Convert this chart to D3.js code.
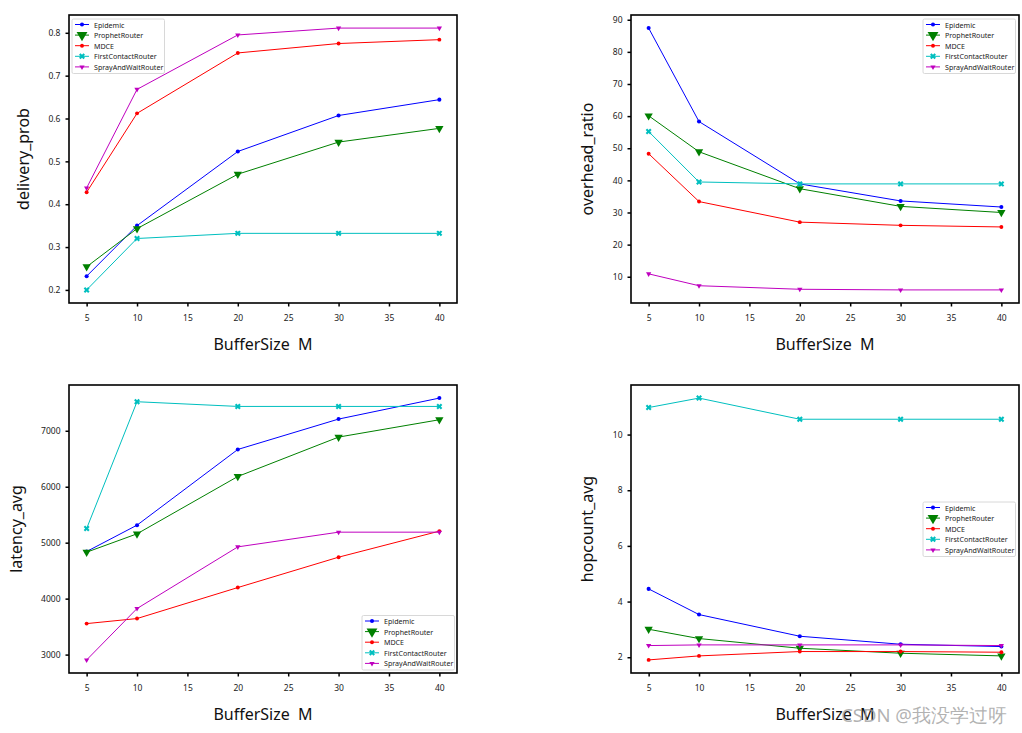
<!DOCTYPE html>
<html><head><meta charset="utf-8">
<script src="https://cdn.jsdelivr.net/npm/d3@7"></script>
<style>body{margin:0;background:#fff}svg{display:block}text{font-family:"Noto Sans","Open Sans",sans-serif}</style>
</head><body>
<script>
const bufferSizes = [5, 10, 20, 30, 40];
const seriesNames = ["Epidemic", "ProphetRouter", "MDCE", "FirstContactRouter", "SprayAndWaitRouter"];
const xTicks = [5, 10, 15, 20, 25, 30, 35, 40];

// delivery_prob
const deliveryEpidemic = [0.232, 0.350, 0.523, 0.607, 0.644];
const deliveryProphet = [0.254, 0.343, 0.470, 0.545, 0.577];
const deliveryMDCE = [0.428, 0.612, 0.753, 0.775, 0.784];
const deliveryFirstContact = [0.200, 0.320, 0.332, 0.332, 0.332];
const deliverySpray = [0.438, 0.668, 0.795, 0.811, 0.811];
const deliveryTicks = [0.2, 0.3, 0.4, 0.5, 0.6, 0.7, 0.8];

// overhead_ratio
const overheadEpidemic = [87.4, 58.3, 38.9, 33.6, 31.7];
const overheadProphet = [60.1, 48.9, 37.4, 31.9, 30.0];
const overheadMDCE = [48.3, 33.4, 27.0, 26.0, 25.5];
const overheadFirstContact = [55.2, 39.5, 38.9, 38.9, 38.9];
const overheadSpray = [10.9, 7.2, 6.1, 5.9, 5.9];
const overheadTicks = [10, 20, 30, 40, 50, 60, 70, 80, 90];

// latency_avg
const latencyEpidemic = [4842, 5313, 6666, 7209, 7584];
const latencyProphet = [4830, 5158, 6183, 6887, 7197];
const latencyMDCE = [3554, 3644, 4198, 4741, 5206];
const latencyFirstContact = [5253, 7519, 7435, 7435, 7435];
const latencySpray = [2905, 3823, 4925, 5188, 5188];
const latencyTicks = [3000, 4000, 5000, 6000, 7000];

// hopcount_avg
const hopEpidemic = [4.455, 3.533, 2.754, 2.467, 2.383];
const hopProphet = [3.006, 2.671, 2.323, 2.144, 2.048];
const hopMDCE = [1.904, 2.048, 2.204, 2.204, 2.180];
const hopFirstContact = [10.97, 11.31, 10.55, 10.55, 10.55];
const hopSpray = [2.419, 2.443, 2.443, 2.443, 2.419];
const hopTicks = [2, 4, 6, 8, 10];

const colors = ["#0000ff", "#008000", "#ff0000", "#00bfbf", "#bf00bf"];

const W = 1022, H = 733;
const svg = d3.select("body").append("svg").attr("width", W).attr("height", H);

function markerPath(i) {
  if (i === 0) return {d: d3.symbol(d3.symbolCircle, 13)(), rot: 0};
  if (i === 1) return {d: d3.symbol(d3.symbolTriangle, 30)(), rot: 180};
  if (i === 2) return {d: d3.symbol(d3.symbolCircle, 12)(), rot: 0};
  if (i === 3) return {d: d3.symbol(d3.symbolCross, 22)(), rot: 45};
  return {d: d3.symbol(d3.symbolTriangle, 12)(), rot: 180};
}

function panel(cfg) {
  const g = svg.append("g");
  const [x0, x1, y0, y1] = cfg.box;
  const all = cfg.series.flat();
  const mn = d3.min(all), mx = d3.max(all), span = mx - mn;
  const x = d3.scaleLinear().domain([3.25, 41.75]).range([x0, x1]);
  const y = d3.scaleLinear().domain([mn - span * 0.05, mx + span * 0.05]).range([y1, y0]);

  const xAxis = g.append("g").attr("transform", `translate(0,${y1})`)
    .call(d3.axisBottom(x).tickValues(xTicks).tickSize(3.5).tickPadding(8).tickFormat(d3.format("d")));
  const yAxis = g.append("g").attr("transform", `translate(${x0},0)`)
    .call(d3.axisLeft(y).tickValues(cfg.ticks).tickSize(3.5).tickPadding(5).tickFormat(cfg.fmt));
  [xAxis, yAxis].forEach(a => {
    a.select(".domain").remove();
    a.selectAll(".tick line").attr("stroke", "#000").attr("stroke-width", 1.5);
    a.selectAll(".tick text").attr("font-size", 8.5).attr("fill", "#222");
  });

  const line = d3.line().x((d, i) => x(bufferSizes[i])).y(d => y(d));
  cfg.series.forEach((s, i) => {
    g.append("path").datum(s).attr("d", line).attr("fill", "none")
      .attr("stroke", colors[i]).attr("stroke-width", 1);
    const m = markerPath(i);
    g.selectAll(null).data(s).enter().append("path")
      .attr("d", m.d)
      .attr("transform", (d, j) => `translate(${x(bufferSizes[j])},${y(d)}) rotate(${m.rot})`)
      .attr("fill", colors[i]);
  });

  g.append("rect").attr("x", x0).attr("y", y0).attr("width", x1 - x0).attr("height", y1 - y0)
    .attr("fill", "none").attr("stroke", "#000").attr("stroke-width", 1.6);

  g.append("text").attr("x", (x0 + x1) / 2).attr("y", cfg.xlabelY).attr("text-anchor", "middle")
    .attr("dominant-baseline", "central").attr("font-size", 16).attr("fill", "#111").text("BufferSize\u00a0\u00a0M");
  g.append("text").attr("transform", `translate(${cfg.ylabelX},${(y0 + y1) / 2}) rotate(-90)`)
    .attr("text-anchor", "middle").attr("dominant-baseline", "central").attr("font-size", 16)
    .attr("fill", "#111").text(cfg.ylabel);

  // legend
  const [lx, ly] = cfg.legend;
  const lw = 92.5, lh = 54.5;
  const lg = g.append("g").attr("transform", `translate(${lx},${ly})`);
  lg.append("rect").attr("width", lw).attr("height", lh).attr("rx", 1.5)
    .attr("fill", "#fff").attr("fill-opacity", 0.85).attr("stroke", "#d8d8d8").attr("stroke-width", 1);
  seriesNames.forEach((n, i) => {
    const ry = 5.5 + i * 10.6;
    lg.append("line").attr("x1", 3).attr("x2", 17).attr("y1", ry).attr("y2", ry)
      .attr("stroke", colors[i]).attr("stroke-width", 1);
    const m = markerPath(i);
    lg.append("path").attr("d", m.d).attr("transform", `translate(10,${ry}) rotate(${m.rot})${i === 1 ? " scale(1.3)" : ""}`)
      .attr("fill", colors[i]);
    lg.append("text").attr("x", 22).attr("y", ry).attr("dominant-baseline", "central")
      .attr("font-size", 7.1).attr("fill", "#222").text(n);
  });
}

panel({box: [69, 457, 15, 303], series: [deliveryEpidemic, deliveryProphet, deliveryMDCE, deliveryFirstContact, deliverySpray],
  ticks: deliveryTicks, fmt: d3.format(".1f"), ylabel: "delivery_prob", ylabelX: 23, xlabelY: 344, legend: [72, 19]});
panel({box: [631, 1019, 15, 303], series: [overheadEpidemic, overheadProphet, overheadMDCE, overheadFirstContact, overheadSpray],
  ticks: overheadTicks, fmt: d3.format("d"), ylabel: "overhead_ratio", ylabelX: 587, xlabelY: 344, legend: [923, 19]});
panel({box: [69, 457, 385, 673], series: [latencyEpidemic, latencyProphet, latencyMDCE, latencyFirstContact, latencySpray],
  ticks: latencyTicks, fmt: d3.format("d"), ylabel: "latency_avg", ylabelX: 16, xlabelY: 714, legend: [362, 615.5]});
panel({box: [631, 1019, 385, 673], series: [hopEpidemic, hopProphet, hopMDCE, hopFirstContact, hopSpray],
  ticks: hopTicks, fmt: d3.format("d"), ylabel: "hopcount_avg", ylabelX: 587, xlabelY: 714, legend: [923, 502]});

svg.append("text").attr("x", 1007).attr("y", 714).attr("text-anchor", "end").attr("dominant-baseline", "central")
  .attr("font-family", "'Noto Sans CJK SC', sans-serif").attr("font-size", 18.5).attr("fill", "#999")
  .attr("fill-opacity", 0.75).text("CSDN @我没学过呀");
</script>
</body></html>
